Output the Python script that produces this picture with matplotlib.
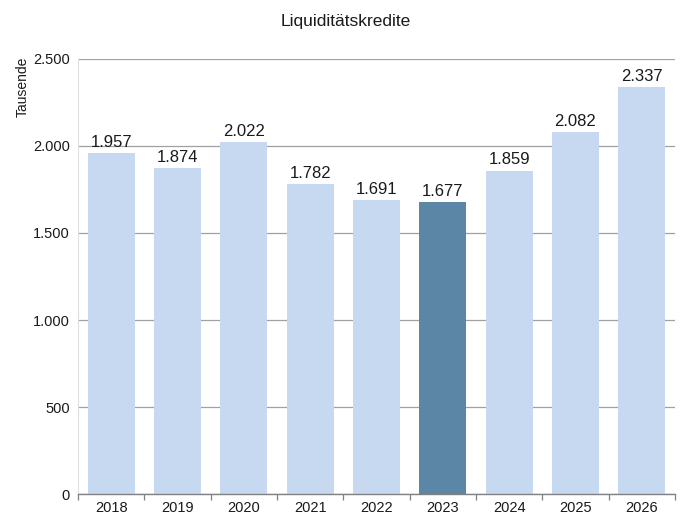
import matplotlib
matplotlib.use('Agg')
import matplotlib.pyplot as plt
from matplotlib.ticker import FuncFormatter

years = ['2018', '2019', '2020', '2021', '2022', '2023', '2024', '2025', '2026']
values = [1957, 1874, 2022, 1782, 1691, 1677, 1859, 2082, 2337]
highlight = '2023'

COLOR_LIGHT = '#c6d9f1'
COLOR_DARK = '#5b86a6'

plt.rcParams['font.family'] = ['Liberation Sans', 'DejaVu Sans']


def de_format(v, pos=None):
    return f'{int(v):,}'.replace(',', '.')


fig = plt.figure(figsize=(6.81, 5.16), dpi=100)
ax = fig.add_axes([0.1145, 0.0426, 0.8765, 0.8431])

colors = [COLOR_DARK if y == highlight else COLOR_LIGHT for y in years]
x = range(len(years))
bars = ax.bar(x, values, width=0.71, color=colors, zorder=2)

# value labels above the bars
for b, v in zip(bars, values):
    ax.text(b.get_x() + b.get_width() / 2, v + 18, de_format(v),
            ha='center', va='bottom', fontsize=12, color='#1a1a1a', zorder=3)

ax.set_xlim(-0.5, len(years) - 0.5)
ax.set_ylim(0, 2500)
ax.set_yticks(range(0, 2501, 500))
ax.yaxis.set_major_formatter(FuncFormatter(de_format))
ax.grid(axis='y', color='#a0a0a0', linewidth=0.9, zorder=1)

ax.set_xticks(list(x))
ax.set_xticklabels(years)
ax.set_xticks([i - 0.5 for i in range(len(years) + 1)], minor=True)
ax.tick_params(axis='x', which='major', length=0, pad=5, labelsize=10.5,
               labelcolor='#1a1a1a')
ax.tick_params(axis='x', which='minor', length=4, color='#808080', width=0.9)
ax.tick_params(axis='y', length=0, pad=6, labelsize=10.5, labelcolor='#1a1a1a')

for s in ['top', 'right']:
    ax.spines[s].set_visible(False)
ax.spines['left'].set_color('#e0e0e0')
ax.spines['bottom'].set_color('#808080')
ax.spines['bottom'].set_linewidth(1.0)

ax.set_ylabel('Tausende', fontsize=10, color='#1a1a1a')
ax.yaxis.set_label_coords(-0.08, 0.935)
fig.text(0.507, 0.958, 'Liquiditätskredite', ha='center', va='center',
         fontsize=12.5, color='#1a1a1a')

fig.savefig('out.png', dpi=100)
